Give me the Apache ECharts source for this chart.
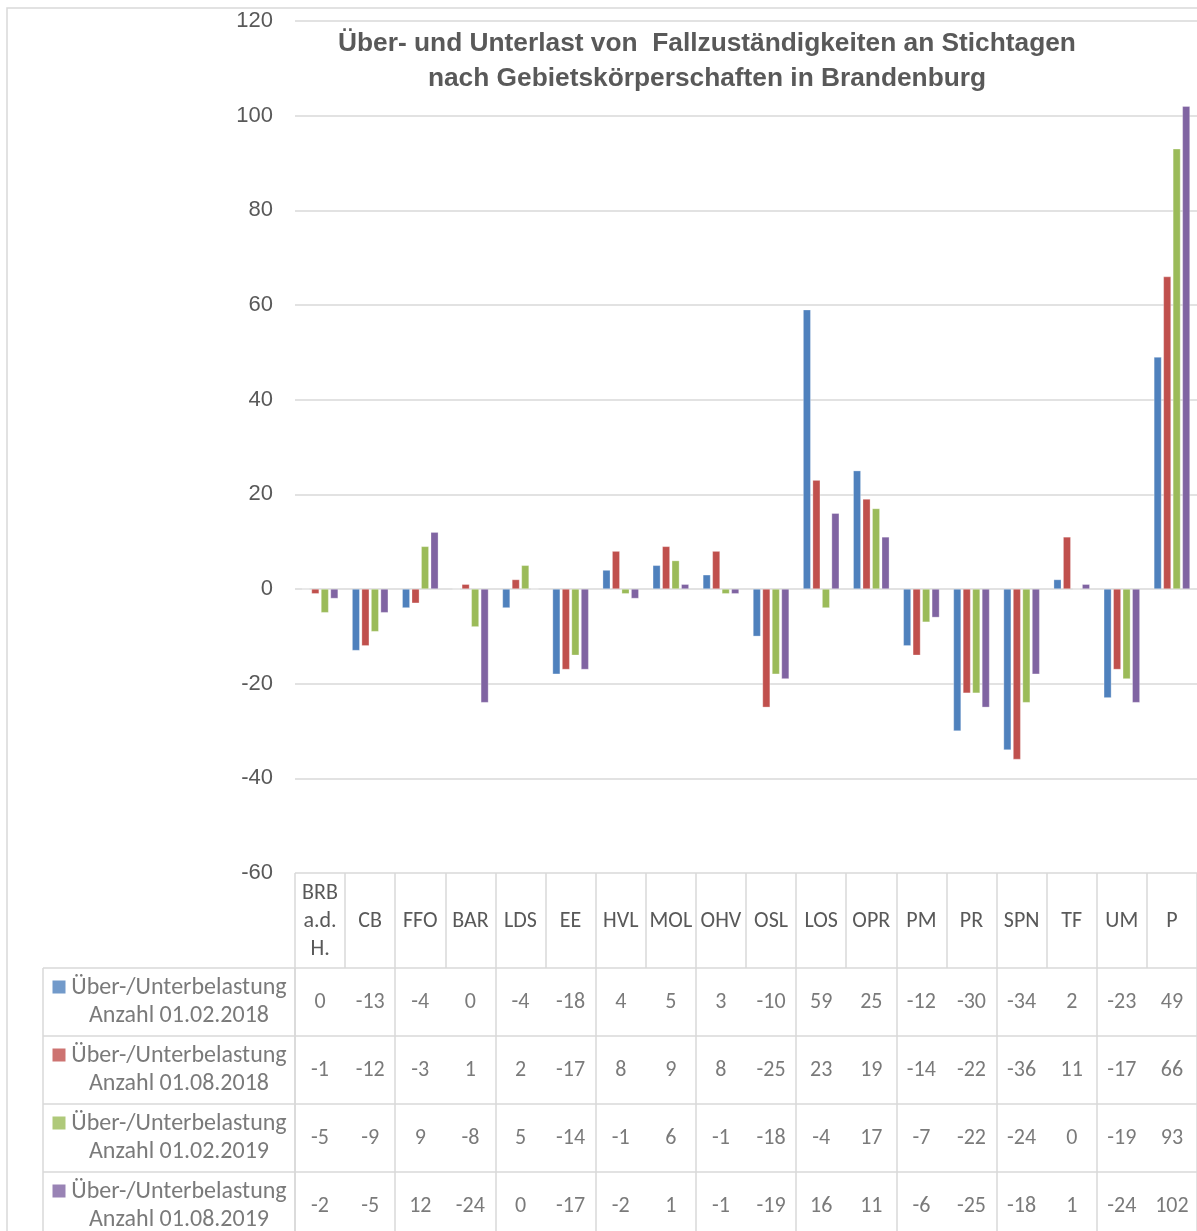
<!DOCTYPE html>
<html><head><meta charset="utf-8">
<script src="https://cdn.jsdelivr.net/npm/echarts@6/dist/echarts.min.js"></script>
<style>html,body{margin:0;padding:0;background:#fff;overflow:hidden}#c{width:1197px;height:1231px}</style>
</head><body><div id="c"></div>
<script>
const categories = ['BRB a.d. H.','CB','FFO','BAR','LDS','EE','HVL','MOL','OHV','OSL','LOS','OPR','PM','PR','SPN','TF','UM','P'];
const seriesNames = [
  'Über-/Unterbelastung Anzahl 01.02.2018',
  'Über-/Unterbelastung Anzahl 01.08.2018',
  'Über-/Unterbelastung Anzahl 01.02.2019',
  'Über-/Unterbelastung Anzahl 01.08.2019'
];
const values2018Feb = [0,-13,-4,0,-4,-18,4,5,3,-10,59,25,-12,-30,-34,2,-23,49];
const values2018Aug = [-1,-12,-3,1,2,-17,8,9,8,-25,23,19,-14,-22,-36,11,-17,66];
const values2019Feb = [-5,-9,9,-8,5,-14,-1,6,-1,-18,-4,17,-7,-22,-24,0,-19,93];
const values2019Aug = [-2,-5,12,-24,0,-17,-2,1,-1,-19,16,11,-6,-25,-18,1,-24,102];
const yMin = -60, yMax = 120, yInterval = 20;
const titleText = 'Über- und Unterlast von  Fallzuständigkeiten an Stichtagen\nnach Gebietskörperschaften in Brandenburg';

const allValues = [values2018Feb, values2018Aug, values2019Feb, values2019Aug];
const colors = ['#4F81BD','#C0504D','#9BBB59','#8064A2'];
const NARROW = "'Liberation Sans Narrow','Arial Narrow','Liberation Sans',Arial,sans-serif";
const TABLE = "Carlito,Calibri,Lato,'Open Sans',sans-serif";
const GRID = '#d9d9d9';
const TXT = '#595959';
const rowIds = ['r0','r1','r2','r3'];

const chart = echarts.init(document.getElementById('c'), null, {renderer:'canvas'});

const series = [];
allValues.forEach((vals, k) => {
  series.push({
    type: 'bar', name: seriesNames[k], xAxisIndex: 0, yAxisIndex: 0,
    data: vals, barGap: '25%', barCategoryGap: '28%',
    itemStyle: {color: colors[k], borderColor: 'rgba(255,255,255,0.6)', borderWidth: 0.5}
  });
});
// table values
allValues.forEach((vals, k) => {
  series.push({
    type: 'scatter', xAxisIndex: 2, yAxisIndex: 2, symbolSize: 1,
    itemStyle: {color: 'transparent'}, silent: true,
    data: vals.map((v, i) => [categories[i], rowIds[k], v]),
    label: {show: true, position: 'inside', formatter: p => String(p.value[2]),
      color: TXT, fontFamily: TABLE, fontSize: 22}
  });
});
// legend keys
series.push({
  type: 'scatter', xAxisIndex: 3, yAxisIndex: 3, symbol: 'rect', symbolSize: 13,
  symbolOffset: [-110, -15], silent: true,
  data: rowIds.map((r, k) => ({value: ['key', r], itemStyle: {color: colors[k]}}))
});
// legend texts
series.push({
  type: 'scatter', xAxisIndex: 3, yAxisIndex: 3, symbolSize: 1, silent: true,
  itemStyle: {color: 'transparent'},
  data: rowIds.map((r, k) => ({value: ['key', r], name: seriesNames[k]})),
  label: {show: true, position: 'inside', offset: [10, 0], align: 'center',
    formatter: p => p.name.replace(' Anzahl', '\nAnzahl'),
    color: TXT, fontFamily: TABLE, fontSize: 24, lineHeight: 28}
});

const option = {
  animation: false,
  backgroundColor: '#fff',
  title: {
    text: titleText, left: 707, top: 26, textAlign: 'center', padding: 0,
    textStyle: {fontFamily: NARROW, fontWeight: 'bold', fontSize: 26.3, lineHeight: 35, color: TXT}
  },
  graphic: [{
    type: 'rect', shape: {x: 7, y: 8, width: 1200, height: 1240}, silent: true,
    style: {fill: 'none', stroke: GRID, lineWidth: 1.5}, z: -1
  }],
  grid: [
    {left: 295, right: 0, top: 21, height: 852, outerBoundsMode: 'none'},
    {left: 295, right: 0, top: 873, height: 95, outerBoundsMode: 'none'},
    {left: 295, right: 0, top: 968, height: 272, outerBoundsMode: 'none'},
    {left: 43, width: 252, top: 968, height: 272, outerBoundsMode: 'none'}
  ],
  xAxis: [
    {type: 'category', gridIndex: 0, data: categories, axisLine: {show: false}, axisTick: {show: false}, axisLabel: {show: false}},
    {type: 'category', gridIndex: 1, data: categories, axisLine: {show: false}, axisTick: {show: false},
      splitLine: {show: true, lineStyle: {color: GRID, width: 1.5}},
      axisLabel: {show: true, inside: true, margin: 47, verticalAlign: 'middle', interval: 0,
        formatter: v => v.split(' ').join('\n'), color: TXT, fontFamily: TABLE, fontSize: 22, lineHeight: 28}},
    {type: 'category', gridIndex: 2, data: categories, axisLine: {show: false}, axisTick: {show: false}, axisLabel: {show: false},
      splitLine: {show: true, lineStyle: {color: GRID, width: 1.5}}},
    {type: 'category', gridIndex: 3, data: ['key'], axisLine: {show: false}, axisTick: {show: false}, axisLabel: {show: false},
      splitLine: {show: true, lineStyle: {color: GRID, width: 1.5}}}
  ],
  yAxis: [
    {type: 'value', gridIndex: 0, min: yMin, max: yMax, interval: yInterval,
      axisLine: {show: false}, axisTick: {show: false},
      splitLine: {show: true, lineStyle: {color: GRID, width: 1.5}},
      axisLabel: {margin: 22, color: TXT, fontFamily: NARROW, fontSize: 22}},
    {type: 'value', gridIndex: 1, min: 0, max: 1, show: false},
    {type: 'category', gridIndex: 2, data: rowIds, inverse: true, axisLine: {show: false}, axisTick: {show: false}, axisLabel: {show: false},
      splitLine: {show: true, lineStyle: {color: GRID, width: 1.5}}},
    {type: 'category', gridIndex: 3, data: rowIds, inverse: true, axisLine: {show: false}, axisTick: {show: false}, axisLabel: {show: false},
      splitLine: {show: true, lineStyle: {color: GRID, width: 1.5}}}
  ],
  series: series
};
chart.setOption(option);
</script></body></html>
